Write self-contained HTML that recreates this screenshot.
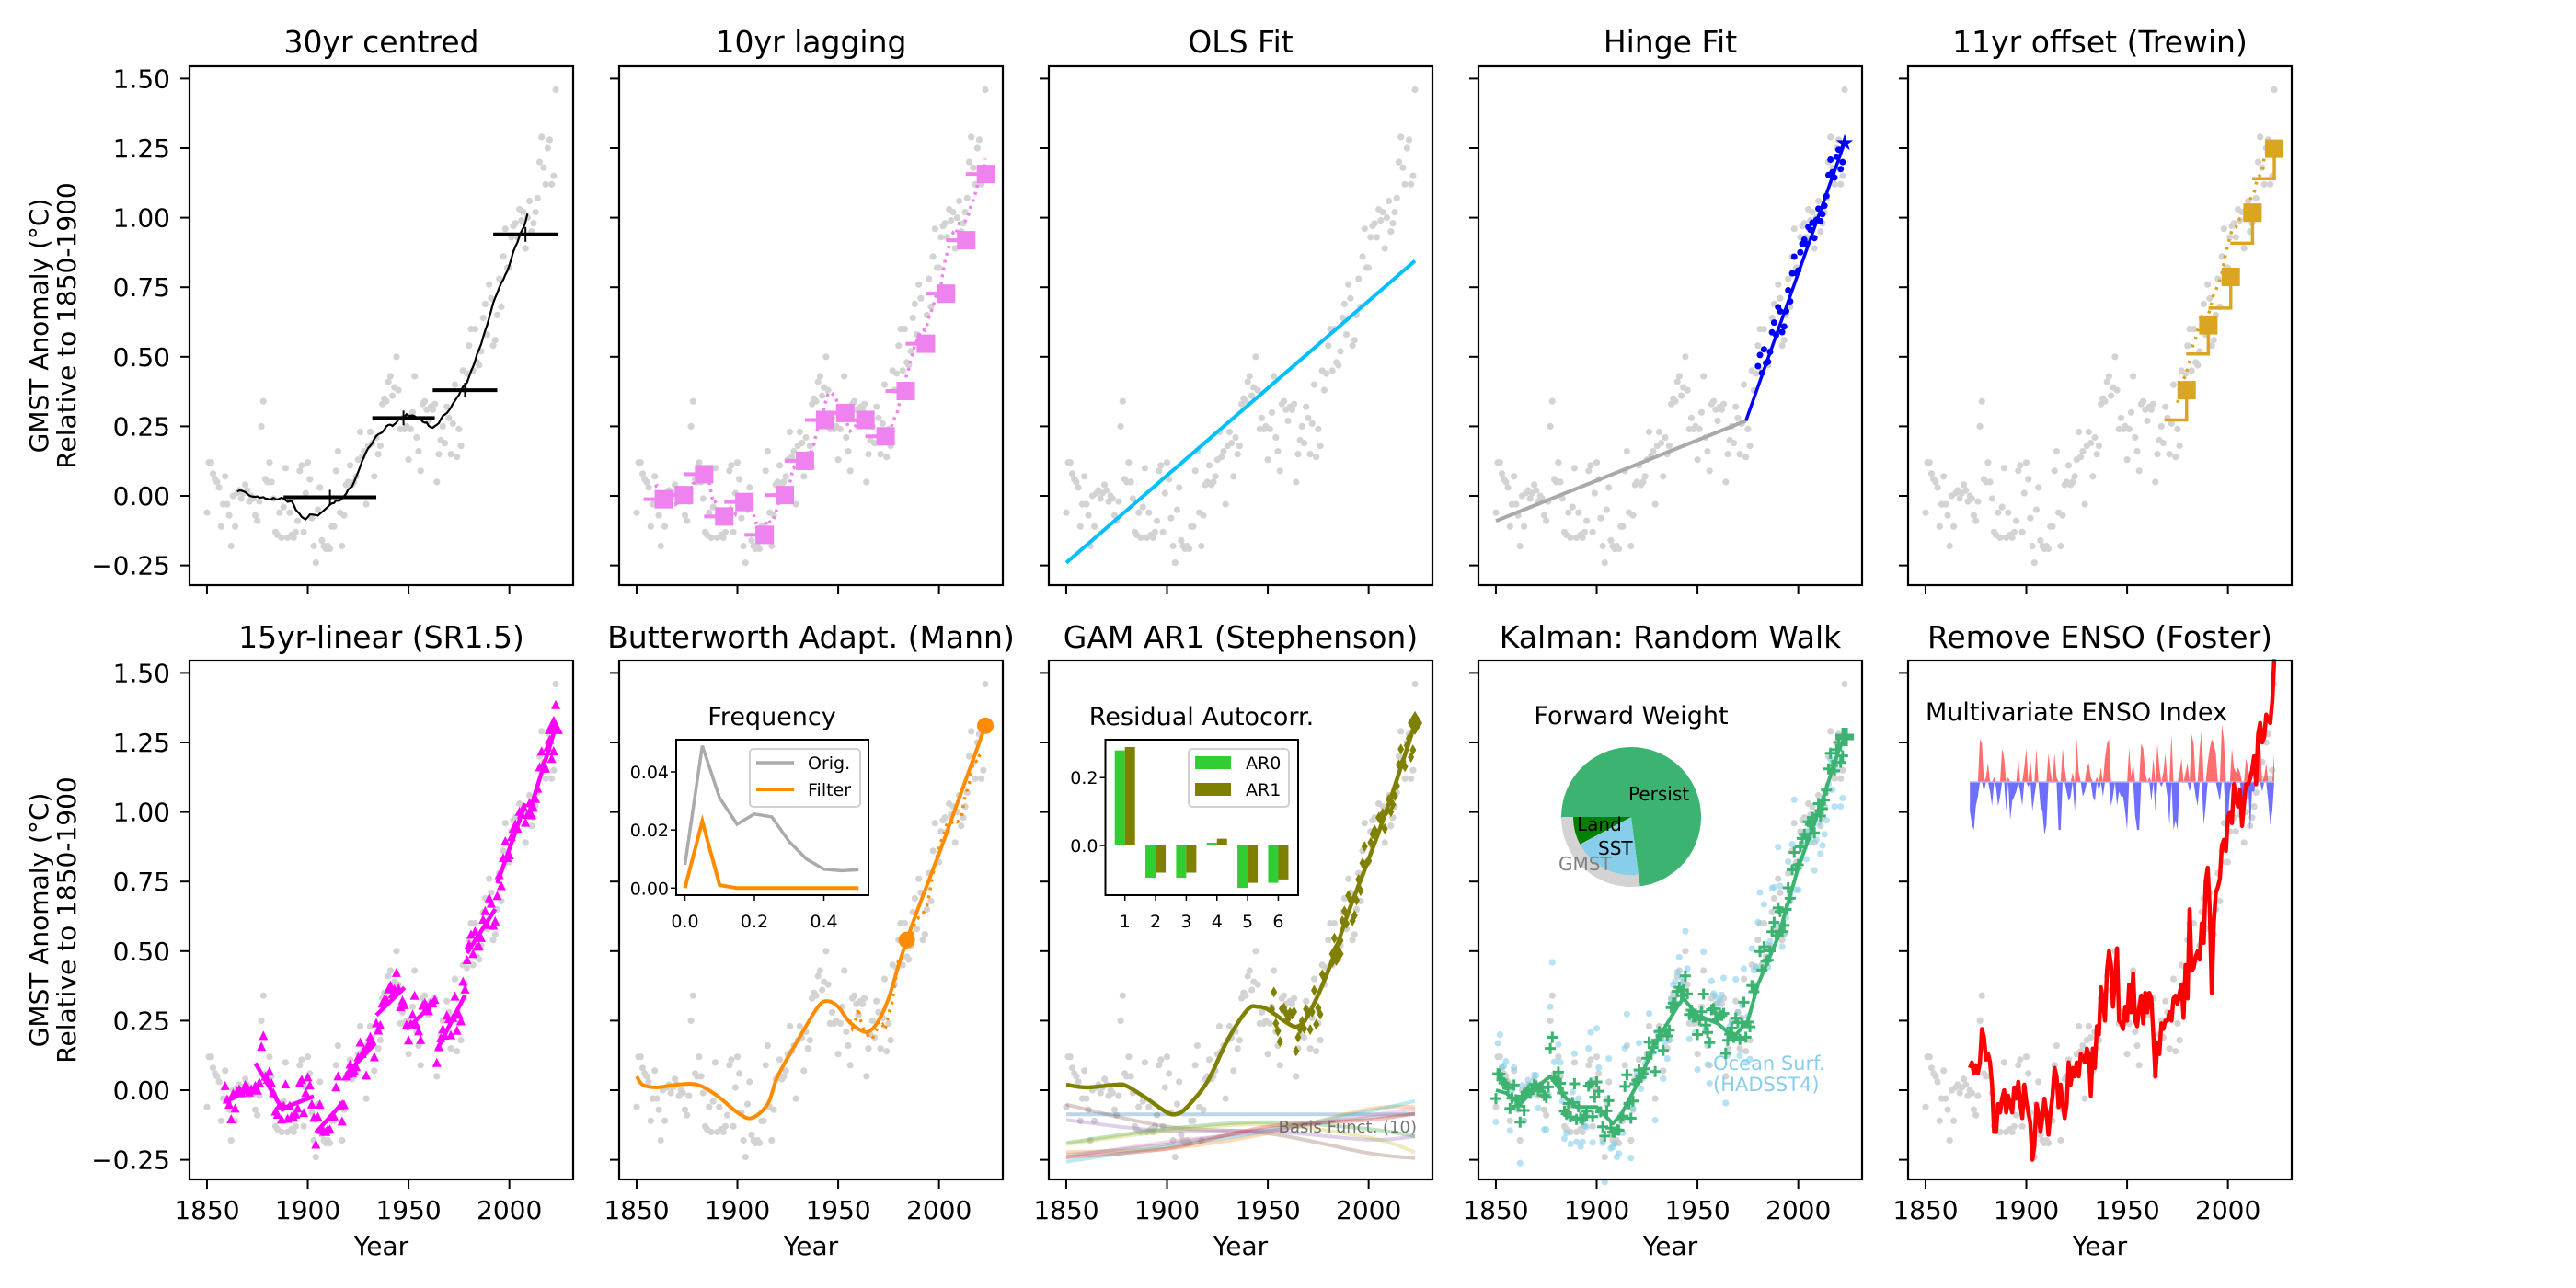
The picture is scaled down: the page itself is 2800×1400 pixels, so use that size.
<!DOCTYPE html>
<html><head><meta charset="utf-8"><title>GMST smoothing methods</title>
<style>
html,body{margin:0;padding:0;background:#fff;}
svg{display:block;font-family:"DejaVu Sans","Liberation Sans",sans-serif;}
</style></head>
<body>
<svg id="fig" width="2800" height="1400" viewBox="0 0 2800 1400" xmlns="http://www.w3.org/2000/svg">
<rect x="0" y="0" width="2800" height="1400" fill="#fff"/>
</svg>
<script>
// ---------------- data ----------------
const startYear = 1850;
const gmst = [
-0.06,0.12,0.12,0.08,0.06,0.05,0.03,-0.11,-0.03,0.07,
-0.03,-0.07,-0.18,0.00,-0.11,0.01,0.02,-0.01,0.01,0.04,
0.02,-0.02,0.00,-0.01,-0.07,-0.09,-0.02,0.25,0.34,0.06,
0.05,0.12,0.05,-0.01,-0.13,-0.14,-0.06,-0.15,-0.04,0.10,
-0.15,-0.06,-0.14,-0.15,-0.13,-0.09,0.09,0.11,-0.13,0.01,
0.12,0.06,-0.08,-0.18,-0.24,-0.05,0.03,-0.16,-0.18,-0.19,
-0.18,-0.19,-0.11,-0.11,0.09,0.16,-0.06,-0.18,-0.07,0.04,
0.05,0.11,0.04,0.05,0.07,0.13,0.23,0.14,0.16,-0.03,
0.18,0.23,0.19,0.07,0.21,0.15,0.18,0.33,0.35,0.34,
0.41,0.43,0.36,0.39,0.50,0.38,0.24,0.28,0.24,0.25,
0.13,0.24,0.30,0.43,0.21,0.16,0.09,0.33,0.34,0.31,
0.27,0.32,0.31,0.33,0.05,0.15,0.20,0.25,0.19,0.32,
0.28,0.15,0.26,0.40,0.14,0.24,0.18,0.45,0.38,0.44,
0.54,0.60,0.45,0.60,0.48,0.47,0.52,0.64,0.69,0.58,
0.76,0.71,0.54,0.56,0.65,0.78,0.68,0.86,0.96,0.82,
0.82,0.93,0.97,0.98,0.93,1.03,0.99,1.02,0.89,1.00,
1.06,0.95,0.98,1.02,1.07,1.20,1.29,1.18,1.12,1.25,
1.28,1.12,1.15,1.46];

const yTickVals = [-0.25,0,0.25,0.5,0.75,1.0,1.25,1.5];
const yTickLabels = ["\u22120.25","0.00","0.25","0.50","0.75","1.00","1.25","1.50"];
const xTickVals = [1850,1900,1950,2000];
const xTickLabels = ["1850","1900","1950","2000"];
const titles = ["30yr centred","10yr lagging","OLS Fit","Hinge Fit","11yr offset (Trewin)",
 "15yr-linear (SR1.5)","Butterworth Adapt. (Mann)","GAM AR1 (Stephenson)","Kalman: Random Walk","Remove ENSO (Foster)"];

// 30yr centred bars
const c30Start = [1888,1932,1962,1992];
const c30End = [1934,1963,1994,2024];
const c30Val = [-0.005,0.28,0.38,0.94];
// 10yr lagging squares
const lagYears = [1863.5,1873.5,1883.5,1893.5,1903.5,1913.5,1923.5,1933.5,1943.5,1953.5,1963.5,1973.5,1983.5,1993.5,2003.5,2013.5,2023.3];
const lagVals = [-0.012,0.003,0.078,-0.074,-0.022,-0.14,0.003,0.126,0.273,0.298,0.273,0.214,0.377,0.547,0.727,0.919,1.157];
// OLS
const olsYears = [1850,2023];
const olsVals = [-0.24,0.845];
// Hinge
const hingeYears = [1850,1974,2023];
const hingeVals = [-0.09,0.27,1.27];
// Trewin
const trewYears = [1979.5,1990.3,2001.4,2012.2,2023];
const trewVals = [0.38,0.613,0.787,1.018,1.248];
const trewBase = [0.273,0.51,0.675,0.908,1.14];
// 15yr linear window starts
const sr15Starts = [1859,1874,1889,1904,1919,1934,1949,1964,1979,1994,2009];
// Butterworth smooth curve
const bwYears = [1850,1853,1860,1870,1880,1890,1900,1907,1915,1920,1930,1940,1945,1950,1955,1960,1965,1970,1975,1980,1985,1990,2000,2010,2020,2023];
const bwVals = [0.05,0.02,0.01,0.02,0.02,-0.02,-0.08,-0.10,-0.05,0.05,0.18,0.30,0.32,0.30,0.25,0.22,0.21,0.25,0.33,0.45,0.56,0.66,0.85,1.05,1.25,1.31];
const bwMarkYears = [1984,2023];
const bwMarkVals = [0.54,1.31];
const freqX = [0,0.05,0.1,0.15,0.2,0.25,0.3,0.35,0.4,0.45,0.5];
const freqOrig = [0.008,0.049,0.031,0.022,0.0255,0.0245,0.016,0.010,0.0065,0.006,0.0063];
const freqFilt = [0,0.023,0.001,0,0,0,0,0,0,0,0];
// GAM
const gamYears = [1850,1860,1875,1880,1890,1900,1905,1910,1920,1930,1940,1945,1950,1960,1965,1970,1980,1990,2000,2010,2020,2023];
const gamVals = [0.02,0.01,0.02,0.015,-0.03,-0.08,-0.085,-0.06,0.03,0.18,0.29,0.30,0.29,0.24,0.23,0.27,0.43,0.64,0.83,1.03,1.25,1.32];
const gamMarkYears = [1984,2023];
const gamMarkVals = [0.49,1.32];
const lags = [1,2,3,4,5,6];
const ar0 = [0.28,-0.095,-0.095,0.008,-0.125,-0.11];
const ar1 = [0.29,-0.08,-0.08,0.02,-0.11,-0.1];
const basisYears = [1850,1900,1950,2000,2023];
const basis0 = [-0.087,-0.087,-0.087,-0.087,-0.087];
const basis1 = [-0.052,-0.131,-0.155,-0.226,-0.244];
const basis2 = [-0.107,-0.147,-0.147,-0.178,-0.166];
const basis3 = [-0.189,-0.139,-0.115,-0.139,-0.166];
const basis4 = [-0.194,-0.147,-0.123,-0.170,-0.222];
const basis5 = [-0.222,-0.210,-0.155,-0.068,-0.060];
const basis6 = [-0.257,-0.202,-0.147,-0.076,-0.039];
const basis7 = [-0.241,-0.186,-0.147,-0.091,-0.068];
const basis8 = [-0.233,-0.194,-0.139,-0.099,-0.084];
const basis9 = [-0.241,-0.210,-0.131,-0.107,-0.084];
// Kalman
const kalYears = [1850,1855,1862,1870,1877,1885,1890,1900,1908,1912,1920,1930,1940,1943,1950,1960,1968,1975,1980,1990,2000,2010,2020,2023];
const kalVals = [0.0,-0.01,-0.05,0.01,0.05,-0.03,-0.06,-0.06,-0.12,-0.09,0.02,0.18,0.30,0.33,0.27,0.24,0.19,0.25,0.38,0.55,0.80,1.0,1.22,1.27];
const pieFracPersist = 0.73;
const pieFracGmst = 0.27;
const pieFracLand = 0.078;
const pieFracSst = 0.19;
// Foster (ENSO removed), 1872-2023
const fosterStart = 1872;
const foster = [
0.08,0.10,0.06,0.09,0.06,0.10,0.22,0.19,0.11,0.13,
0.10,0.02,-0.15,-0.15,-0.05,-0.08,-0.03,0.00,-0.08,-0.02,
-0.05,-0.08,0.01,-0.03,0.03,-0.05,-0.10,0.02,-0.04,-0.08,
-0.12,-0.25,-0.20,-0.05,-0.08,-0.15,-0.10,-0.03,-0.08,-0.16,
-0.08,-0.02,0.08,0.05,-0.06,0.02,-0.05,-0.10,-0.05,0.10,
0.02,0.08,0.05,0.10,0.05,0.13,0.12,0.10,0.15,0.13,
-0.02,0.15,0.08,0.23,0.20,0.37,0.32,0.25,0.43,0.50,
0.45,0.30,0.40,0.51,0.25,0.24,0.22,0.30,0.25,0.38,
0.28,0.42,0.25,0.23,0.30,0.34,0.24,0.35,0.28,0.35,
0.33,0.20,0.05,0.17,0.13,0.24,0.22,0.25,0.25,0.28,
0.25,0.33,0.34,0.31,0.35,0.38,0.26,0.45,0.33,0.65,
0.43,0.44,0.48,0.50,0.47,0.60,0.53,0.75,0.80,0.65,
0.35,0.60,0.71,0.73,0.76,0.88,0.90,0.86,0.98,1.00,
0.96,1.10,1.05,1.02,1.08,0.95,1.03,1.10,1.10,1.12,
1.15,1.20,1.10,1.28,1.32,1.25,1.27,1.35,1.33,1.32,
1.40,1.55];
const mei = [
-0.6,-0.9,-1.0,-0.5,-0.3,0.9,0.8,-0.2,0.1,0.4,
-0.2,-0.5,0.1,-0.1,-0.5,-0.3,0.7,0.5,-0.6,0.1,
-0.8,-0.4,-0.3,-0.2,0.5,-0.2,-0.5,0.3,0.7,-0.1,
0.5,-0.6,-0.3,0.7,0.0,-0.5,-0.6,-1.1,-0.9,0.6,
0.2,0.0,0.6,0.1,-1.0,-1.0,0.7,0.3,-0.2,-0.4,
-0.3,0.2,-0.6,0.9,0.2,0.0,-0.3,-0.2,0.3,0.4,
0.1,-0.3,-0.4,0.1,-0.2,0.3,-0.3,0.5,0.8,0.9,
-0.5,-0.3,0.0,-0.5,-0.2,-0.3,-0.3,-0.6,-1.0,0.7,
0.1,0.4,-0.7,-1.0,-1.0,0.8,0.7,0.2,0.0,0.1,
-0.4,0.5,-0.6,0.8,0.3,-0.1,0.2,0.6,-0.3,-0.9,
1.0,-1.0,-0.8,-1.0,0.2,0.5,0.0,0.2,0.4,-0.2,
1.0,0.8,-0.3,-0.5,0.7,1.1,-0.9,-0.5,0.4,0.7,
0.9,0.8,0.6,-0.2,-0.4,1.2,0.9,-0.9,-0.8,-0.2,
0.7,0.3,0.2,0.3,0.2,-0.4,-0.9,0.5,0.3,-1.0,
-0.2,-0.2,0.2,1.1,0.9,-0.2,0.1,0.4,-0.4,-0.9,
-0.6,0.6];

// ---------------- geometry ----------------
const PL=206, PDX=467, PW=417, PT=[72,718], PH=564;
const XMIN=1841.35, XMAX=2031.65, YMIN=-0.3207, YMAX=1.5443;
function X(c,yr){return PL+PDX*c+(yr-XMIN)/(XMAX-XMIN)*PW;}
function Y(r,v){return PT[r]+(YMAX-v)/(YMAX-YMIN)*PH;}
const NS="http://www.w3.org/2000/svg";
const svg=document.getElementById('fig');
function mk(tag,attrs,parent){const e=document.createElementNS(NS,tag);for(const k in attrs)e.setAttribute(k,attrs[k]);(parent||svg).appendChild(e);return e;}
function txt(s,attrs,parent){const e=mk('text',attrs,parent);e.textContent=s;return e;}
function crPath(pts){
  let d='M'+pts[0][0].toFixed(1)+','+pts[0][1].toFixed(1);
  for(let i=0;i<pts.length-1;i++){
    const p0=pts[Math.max(0,i-1)],p1=pts[i],p2=pts[i+1],p3=pts[Math.min(pts.length-1,i+2)];
    const c1=[p1[0]+(p2[0]-p0[0])/6,p1[1]+(p2[1]-p0[1])/6];
    const c2=[p2[0]-(p3[0]-p1[0])/6,p2[1]-(p3[1]-p1[1])/6];
    d+=' C'+c1[0].toFixed(1)+','+c1[1].toFixed(1)+' '+c2[0].toFixed(1)+','+c2[1].toFixed(1)+' '+p2[0].toFixed(1)+','+p2[1].toFixed(1);
  }
  return d;
}
function polyPts(c,r,yrs,vals){return yrs.map((y,i)=>X(c,y).toFixed(1)+','+Y(r,vals[i]).toFixed(1)).join(' ');}
function interp(yrs,vals,y){for(let i=0;i<yrs.length-1;i++){if(y>=yrs[i]&&y<=yrs[i+1]){const t=(y-yrs[i])/(yrs[i+1]-yrs[i]);return vals[i]+t*(vals[i+1]-vals[i]);}}return y<yrs[0]?vals[0]:vals[vals.length-1];}
function meanRange(a,b){let s=0,n=0;for(let y=a;y<=b;y++){const i=y-startYear;if(i>=0&&i<gmst.length){s+=gmst[i];n++;}}return s/n;}

// ---------------- axes / frames ----------------
const panels=[];
for(let k=0;k<10;k++){
  const c=k%5, r=Math.floor(k/5);
  const g=mk('g',{});
  
  
  panels.push(g);
  const t=txt(titles[k],{x:PL+PDX*c+PW/2,y:r?704:57,'text-anchor':'middle','font-size':33},g);
  
  
  // scatter
  const sg=mk('g',{fill:'#d3d3d3'},g);
  
  
  gmst.forEach((v,i)=>{
    const d=mk('circle',{cx:X(c,startYear+i).toFixed(1),cy:Y(r,v).toFixed(1),r:3.6},sg);
    
    
  });
}
function frame(k){
  const c=k%5, r=Math.floor(k/5), g=panels[k];
  const L=PL+PDX*c, T=PT[r];
  const f=mk('rect',{x:L,y:T,width:PW,height:PH,fill:'none',stroke:'#000','stroke-width':2.2},g);
  
  
  yTickVals.forEach((v,i)=>{
    const tk=mk('line',{x1:L,x2:L-10,y1:Y(r,v),y2:Y(r,v),stroke:'#000','stroke-width':2},g);
    
    
    if(c===0){
      const tl=txt(yTickLabels[i],{x:L-21,y:Y(r,v)+10,'text-anchor':'end','font-size':28},g);
      
      
    }
  });
  xTickVals.forEach((v,i)=>{
    const tk=mk('line',{x1:X(c,v),x2:X(c,v),y1:T+PH,y2:T+PH+10,stroke:'#000','stroke-width':2},g);
    
    
    if(r===1){
      const tl=txt(xTickLabels[i],{x:X(c,v),y:1325,'text-anchor':'middle','font-size':28},g);
      
      
    }
  });
  if(r===1){
    const xl=txt('Year',{x:L+PW/2,y:1364,'text-anchor':'middle','font-size':28},g);
    
    
  }
  if(c===0){
    const cy=T+PH/2;
    const yl=txt('',{transform:'translate(52,'+cy+') rotate(-90)','text-anchor':'middle','font-size':28},g);
    
    
    const s1=mk('tspan',{x:0,y:0},yl); s1.textContent='GMST Anomaly (\u00B0C)';
    const s2=mk('tspan',{x:0,y:30},yl); s2.textContent='Relative to 1850-1900';
  }
}

// ---------- Panel 1: 30yr centred ----------
{
  const g=panels[0]; const pts=[];
  for(let y=1865;y<=2009;y++) pts.push([X(0,y),Y(0,meanRange(y-15,y+14))]);
  const l=mk('polyline',{points:pts.map(p=>p[0].toFixed(1)+','+p[1].toFixed(1)).join(' '),fill:'none',stroke:'#000','stroke-width':2.2},g);
  
  
  c30Val.forEach((v,i)=>{
    const b=mk('line',{x1:X(0,c30Start[i]),x2:X(0,c30End[i]),y1:Y(0,v),y2:Y(0,v),stroke:'#000','stroke-width':4},g);
    
    
    const m=(c30Start[i]+c30End[i])/2;
    const tk=mk('line',{x1:X(0,m),x2:X(0,m),y1:Y(0,v)-8,y2:Y(0,v)+8,stroke:'#000','stroke-width':2},g);
    
    
  });
}
// ---------- Panel 2: 10yr lagging ----------
{
  const g=panels[1]; const pts=[];
  for(let y=1859;y<=2023;y++) pts.push(X(1,y).toFixed(1)+','+Y(0,meanRange(y-9,y)).toFixed(1));
  const l=mk('polyline',{points:pts.join(' '),fill:'none',stroke:'#ee82ee','stroke-width':3.5,'stroke-dasharray':'3,5'},g);
  
  
  lagYears.forEach((y,i)=>{
    const h=mk('line',{x1:X(1,y-10),x2:X(1,y),y1:Y(0,lagVals[i]),y2:Y(0,lagVals[i]),stroke:'#ee82ee','stroke-width':4},g);
    
    
    const s=mk('rect',{x:X(1,y)-10,y:Y(0,lagVals[i])-10,width:20,height:20,fill:'#ee82ee'},g);
    
    
  });
}
// ---------- Panel 3: OLS ----------
{
  const l=mk('polyline',{points:polyPts(2,0,olsYears,olsVals),fill:'none',stroke:'#00bfff','stroke-width':4},panels[2]);
  
  
}
// ---------- Panel 4: Hinge ----------
{
  const g=panels[3];
  const a=mk('polyline',{points:polyPts(3,0,hingeYears.slice(0,2),hingeVals.slice(0,2)),fill:'none',stroke:'#a9a9a9','stroke-width':4},g);
  
  
  const b=mk('polyline',{points:polyPts(3,0,hingeYears.slice(1),hingeVals.slice(1)),fill:'none',stroke:'#0000ff','stroke-width':3.5},g);
  
  
  for(let y=1980;y<=2022;y++){
    const f=interp(hingeYears,hingeVals,y), v=(f+gmst[y-startYear])/2;
    const d=mk('circle',{cx:X(3,y),cy:Y(0,v),r:3.5,fill:'#0000ff'},g);
    
    
  }
  const st=txt('\u2605',{x:X(3,2023),y:Y(0,1.27)+8,'text-anchor':'middle','font-size':24,fill:'#0000ff'},g);
  
  
}
// ---------- Panel 5: Trewin ----------
{
  const g=panels[4]; const pts=[];
  for(let y=1975;y<=2020;y++) pts.push(X(4,y).toFixed(1)+','+Y(0,meanRange(y-5,y+5)+0.02).toFixed(1));
  const l=mk('polyline',{points:pts.join(' '),fill:'none',stroke:'#daa520','stroke-width':3.5,'stroke-dasharray':'3,6'},g);
  
  
  trewYears.forEach((y,i)=>{
    const s=mk('polyline',{points:X(4,y-11)+','+Y(0,trewBase[i])+' '+X(4,y)+','+Y(0,trewBase[i])+' '+X(4,y)+','+Y(0,trewVals[i]),fill:'none',stroke:'#daa520','stroke-width':3.5},g);
    
    
    const m=mk('rect',{x:X(4,y)-10,y:Y(0,trewVals[i])-10,width:20,height:20,fill:'#daa520'},g);
    
    
  });
}
// ---------- Panel 6: 15yr linear ----------
{
  const g=panels[5];
  sr15Starts.forEach(s=>{
    const e=Math.min(s+14,2023); let n=0,sx=0,sy=0,sxx=0,sxy=0;
    for(let y=s;y<=e;y++){const v=gmst[y-startYear];n++;sx+=y;sy+=v;sxx+=y*y;sxy+=y*v;}
    const b=(n*sxy-sx*sy)/(n*sxx-sx*sx), a=(sy-b*sx)/n;
    const l=mk('line',{x1:X(0,s)+PDX*0,x2:X(0,e),y1:Y(1,a+b*s),y2:Y(1,a+b*e),stroke:'#ff00ff','stroke-width':4.5},g);
    l.setAttribute('x1',X(0,s)); l.setAttribute('x2',X(0,e));
    
    
    for(let y=s;y<=e;y++){
      const v=(a+b*y+gmst[y-startYear])/2, cx=X(0,y), cy=Y(1,v);
      const t=mk('polygon',{points:cx+','+(cy-6)+' '+(cx-5)+','+(cy+4)+' '+(cx+5)+','+(cy+4),fill:'#ff00ff'},g);
      
      
    }
  });
  const big=mk('polygon',{points:X(0,2022)+','+(Y(1,1.30)-14)+' '+(X(0,2022)-10)+','+(Y(1,1.30)+6)+' '+(X(0,2022)+10)+','+(Y(1,1.30)+6),fill:'#ff00ff'},g);
  
  
}
// ---------- Panel 7: Butterworth ----------
{
  const g=panels[6];
  const c=mk('path',{d:crPath(bwYears.map((y,i)=>[X(1,y),Y(1,bwVals[i])])),fill:'none',stroke:'#ff8c00','stroke-width':4},g);
  
  
  const pts=[];
  for(let y=1955;y<=2021;y++) pts.push(X(1,y).toFixed(1)+','+Y(1,meanRange(y-3,y+3)-0.02).toFixed(1));
  const d=mk('polyline',{points:pts.join(' '),fill:'none',stroke:'#ff8c00','stroke-width':3.5,'stroke-dasharray':'3,6'},g);
  
  
  bwMarkYears.forEach((y,i)=>{
    const m=mk('circle',{cx:X(1,y),cy:Y(1,bwMarkVals[i]),r:9,fill:'#ff8c00'},g);
    
    
  });
  // inset
  const IL=735, IR=944, IT=804, IB=973;
  const fx=v=>744.5+v*377.5, fy=v=>965.3-v*3157;
  const ib=mk('rect',{x:IL,y:IT,width:IR-IL,height:IB-IT,fill:'#fff',stroke:'#000','stroke-width':2},g);
  
  
  const it=txt('Frequency',{x:839,y:788,'text-anchor':'middle','font-size':27},g);
  
  
  [0,0.02,0.04].forEach(v=>{
    const tk=mk('line',{x1:IL,x2:IL-6,y1:fy(v),y2:fy(v),stroke:'#000','stroke-width':1.5},g);
    
    
    const tl=txt(v.toFixed(2),{x:IL-8,y:fy(v)+7,'text-anchor':'end','font-size':19},g);
    
    
  });
  [0,0.2,0.4].forEach(v=>{
    const tk=mk('line',{x1:fx(v),x2:fx(v),y1:IB,y2:IB+6,stroke:'#000','stroke-width':1.5},g);
    
    
    const tl=txt(v.toFixed(1),{x:fx(v),y:1008,'text-anchor':'middle','font-size':19},g);
    
    
  });
  const lo=mk('polyline',{points:freqX.map((f,i)=>fx(f)+','+fy(freqOrig[i])).join(' '),fill:'none',stroke:'#aaaaaa','stroke-width':3.5},g);
  
  
  const lf=mk('polyline',{points:freqX.map((f,i)=>fx(f)+','+fy(freqFilt[i])).join(' '),fill:'none',stroke:'#ff8c00','stroke-width':4},g);
  
  
  const lg=mk('rect',{x:815,y:814,width:120,height:63,rx:4,fill:'#fff',stroke:'#d0d0d0','stroke-width':2},g);
  
  
  const l1=mk('line',{x1:822,x2:863,y1:829,y2:829,stroke:'#aaaaaa','stroke-width':3.5},g);
  
  
  const t1=txt('Orig.',{x:878,y:836,'font-size':19},g);
  
  
  const l2=mk('line',{x1:822,x2:863,y1:858,y2:858,stroke:'#ff8c00','stroke-width':4},g);
  
  
  const t2=txt('Filter',{x:878,y:865,'font-size':19},g);
  
  
}
// ---------- Panel 8: GAM ----------
{
  const g=panels[7];
  const cols=['#1f77b4','#8c564b','#9467bd','#2ca02c','#bcbd22','#ff7f0e','#17becf','#e377c2','#7f7f7f','#d62728'];
  const bs=[basis0,basis1,basis2,basis3,basis4,basis5,basis6,basis7,basis8,basis9];
  bs.forEach((b,i)=>{
    const p=mk('path',{d:crPath(basisYears.map((y,j)=>[X(2,y),Y(1,b[j])])),fill:'none',stroke:cols[i],'stroke-width':4,'stroke-opacity':0.3},g);
    
    
  });
  const bt=txt('Basis Funct. (10)',{x:1540,y:1231,'text-anchor':'end','font-size':18,fill:'#555','fill-opacity':0.8},g);
  
  
  const c=mk('path',{d:crPath(gamYears.map((y,i)=>[X(2,y),Y(1,gamVals[i])])),fill:'none',stroke:'#808000','stroke-width':4.5},g);
  
  
  for(let y=1952;y<=2022;y++){
    if(y>1977&&y<1982) continue;
    const v=(interp(gamYears,gamVals,y)+gmst[y-startYear])/2, cx=X(2,y), cy=Y(1,v);
    const d=mk('polygon',{points:cx+','+(cy-6)+' '+(cx+3.5)+','+cy+' '+cx+','+(cy+6)+' '+(cx-3.5)+','+cy,fill:'#808000'},g);
    
    
  }
  gamMarkYears.forEach((y,i)=>{
    const cx=X(2,y), cy=Y(1,gamMarkVals[i]);
    const m=mk('polygon',{points:cx+','+(cy-13)+' '+(cx+8)+','+cy+' '+cx+','+(cy+13)+' '+(cx-8)+','+cy,fill:'#808000'},g);
    
    
  });
  // inset
  const IL=1201.5, IR=1411, IT=804, IB=973;
  const by=v=>919-v*369, bx=k=>1222.7+(k-1)*33.35;
  const ib=mk('rect',{x:IL,y:IT,width:IR-IL,height:IB-IT,fill:'#fff',stroke:'#000','stroke-width':2},g);
  
  
  const it=txt('Residual Autocorr.',{x:1306,y:788,'text-anchor':'middle','font-size':27},g);
  
  
  [0,0.2].forEach(v=>{
    const tk=mk('line',{x1:IL,x2:IL-6,y1:by(v),y2:by(v),stroke:'#000','stroke-width':1.5},g);
    
    
    const tl=txt(v.toFixed(1),{x:IL-8,y:by(v)+7,'text-anchor':'end','font-size':19},g);
    
    
  });
  lags.forEach((k,i)=>{
    const tk=mk('line',{x1:bx(k),x2:bx(k),y1:IB,y2:IB+6,stroke:'#000','stroke-width':1.5},g);
    
    
    const tl=txt(String(k),{x:bx(k),y:1008,'text-anchor':'middle','font-size':19},g);
    
    
    const b0=mk('rect',{x:bx(k)-11,y:Math.min(by(ar0[i]),by(0)),width:11,height:Math.abs(by(ar0[i])-by(0)),fill:'#32cd32'},g);
    
    
    const b1=mk('rect',{x:bx(k),y:Math.min(by(ar1[i]),by(0)),width:11,height:Math.abs(by(ar1[i])-by(0)),fill:'#808000'},g);
    
    
  });
  const lg=mk('rect',{x:1292,y:814,width:109,height:63,rx:4,fill:'#fff',stroke:'#d0d0d0','stroke-width':2},g);
  
  
  const p1=mk('rect',{x:1299,y:822,width:39,height:14,fill:'#32cd32'},g);
  
  
  const t1=txt('AR0',{x:1354,y:836,'font-size':19},g);
  
  
  const p2=mk('rect',{x:1299,y:851,width:39,height:14,fill:'#808000'},g);
  
  
  const t2=txt('AR1',{x:1354,y:865,'font-size':19},g);
  
  
}
// ---------- Panel 9: Kalman ----------
{
  const g=panels[8];
  gmst.forEach((v,i)=>{
    const y=startYear+i; if(y>1998) return;
    const k=interp(kalYears,kalVals,y), s=v+(v-k)*0.4+((i%3)-1)*0.03;
    const d=mk('circle',{cx:X(3,y),cy:Y(1,s),r:3.6,fill:'#87ceeb','fill-opacity':0.6},g);
    
    
  });
  for(let y=1999;y<=2022;y++){
    const v=gmst[y-startYear]-0.1;
    const d=mk('circle',{cx:X(3,y),cy:Y(1,v),r:3.6,fill:'#87ceeb','fill-opacity':0.6},g);
    
    
  }
  const st=txt('Ocean Surf.',{x:1862,y:1163,'font-size':21,fill:'#87ceeb'},g);
  
  
  const st2=txt('(HADSST4)',{x:1862,y:1186,'font-size':21,fill:'#87ceeb'},g);
  
  
  const c=mk('polyline',{points:polyPts(3,1,kalYears,kalVals),fill:'none',stroke:'#3cb371','stroke-width':4,'stroke-linejoin':'round'},g);
  
  
  for(let y=1850;y<=2022;y++){
    if(y>1978&&y<1981) continue;
    const v=(interp(kalYears,kalVals,y)+gmst[y-startYear])/2, cx=X(3,y), cy=Y(1,v);
    const p=mk('path',{d:'M'+(cx-6)+','+cy+'h12M'+cx+','+(cy-6)+'v12',stroke:'#3cb371','stroke-width':3},g);
    
    
  }
  const cx=X(3,2023), cy=Y(1,1.27);
  const big=mk('path',{d:'M'+(cx-10)+','+cy+'h20M'+cx+','+(cy-10)+'v20',stroke:'#3cb371','stroke-width':7},g);
  
  
  // pie
  const PX=1773, PY=888, R=76, r2=63;
  const A0=180, aEndPersist=A0+360*pieFracPersist;
  function wedge(a1,a2,rad){const t1=a1*Math.PI/180,t2=a2*Math.PI/180;const large=(a2-a1)>180?1:0;
    return 'M'+PX+','+PY+' L'+(PX+rad*Math.cos(t1)).toFixed(1)+','+(PY+rad*Math.sin(t1)).toFixed(1)+' A'+rad+','+rad+' 0 '+large+' 1 '+(PX+rad*Math.cos(t2)).toFixed(1)+','+(PY+rad*Math.sin(t2)).toFixed(1)+' Z';}
  const w1=mk('path',{d:wedge(A0,aEndPersist,R),fill:'#3cb371'},g);
  
  
  const gStart=aEndPersist, gEnd=gStart+360*pieFracGmst;
  const w2=mk('path',{d:wedge(gStart,gEnd,R),fill:'#d3d3d3'},g);
  
  
  const w3=mk('path',{d:wedge(gStart,gStart+360*pieFracSst,r2),fill:'#87ceeb'},g);
  
  
  const w4=mk('path',{d:wedge(gEnd-360*pieFracLand,gEnd,r2),fill:'#008000'},g);
  
  
  const pt=txt('Forward Weight',{x:1773,y:787,'text-anchor':'middle','font-size':27},g);
  
  
  const l1=txt('Persist',{x:1770,y:870,'font-size':20},g);
  
  
  const l2=txt('Land',{x:1714,y:903,'font-size':20},g);
  
  
  const l3=txt('SST',{x:1737,y:929,'font-size':20},g);
  
  
  const l4=txt('GMST',{x:1694,y:946,'font-size':20,fill:'#808080'},g);
  
  
}
// ---------- Panel 10: Foster ----------
{
  const g=panels[9];
  const base=850, sc=52;
  let dp='M'+X(4,fosterStart)+','+base, dn='M'+X(4,fosterStart)+','+base;
  mei.forEach((v,i)=>{const x=X(4,fosterStart+i).toFixed(1);dp+=' L'+x+','+(base-Math.max(v,0)*sc).toFixed(1);dn+=' L'+x+','+(base-Math.min(v,0)*sc).toFixed(1);});
  const xe=X(4,fosterStart+mei.length-1).toFixed(1);
  dp+=' L'+xe+','+base+' Z'; dn+=' L'+xe+','+base+' Z';
  const ap=mk('path',{d:dp,fill:'#ff6666','fill-opacity':0.95},g);
  
  
  const an=mk('path',{d:dn,fill:'#6666ff','fill-opacity':0.95},g);
  
  
  const bl=mk('line',{x1:X(4,fosterStart),x2:xe,y1:base,y2:base,stroke:'#b0b0ff','stroke-width':1.5},g);
  
  
  const mt=txt('Multivariate ENSO Index',{x:2093,y:783,'font-size':27},g);
  
  
  const l=mk('polyline',{points:foster.map((v,i)=>X(4,fosterStart+i).toFixed(1)+','+Y(1,v).toFixed(1)).join(' '),fill:'none',stroke:'#ff0000','stroke-width':4.5,'stroke-linejoin':'round'},g);
  
  
}
for(let k=0;k<10;k++) frame(k);
</script>
</body></html>
